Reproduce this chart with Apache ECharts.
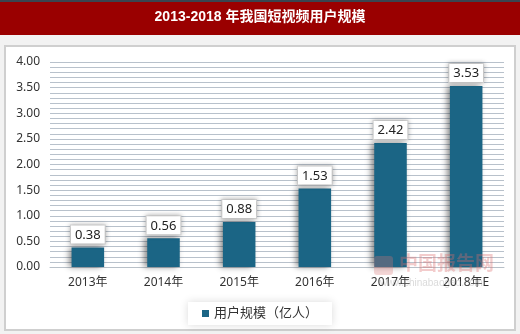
<!DOCTYPE html>
<html><head><meta charset="utf-8">
<script src="https://cdn.jsdelivr.net/npm/echarts@6/dist/echarts.min.js"></script>
<style>html,body{margin:0;padding:0;background:#fff}#c{width:520px;height:334px}</style>
</head><body><div id="c"></div>
<script>
const title = '2013-2018 年我国短视频用户规模';
const categories = ['2013年', '2014年', '2015年', '2016年', '2017年', '2018年E'];
const values = [0.38, 0.56, 0.88, 1.53, 2.42, 3.53];
const seriesName = '用户规模（亿人）';

const chart = echarts.init(document.getElementById('c'), null, {renderer: 'canvas'});
const font = '"Noto Sans", "Noto Sans CJK SC", sans-serif';
chart.setOption({
  animation: false,
  backgroundColor: '#ffffff',
  graphic: [
    {type: 'rect', z: 0, shape: {x: 0, y: 0, width: 520, height: 2}, style: {fill: '#3a4550'}},
    {type: 'rect', z: 0, shape: {x: 0, y: 2, width: 520, height: 33}, style: {fill: '#9a0000'}},
    {type: 'rect', z: 0, shape: {x: 0, y: 35, width: 520, height: 299}, style: {fill: '#f2f2f2'}},
    {type: 'rect', z: 0, shape: {x: 5, y: 46, width: 510, height: 284},
      style: {fill: '#ffffff', stroke: '#cfcfcf', lineWidth: 2}},
    {type: 'text', z: 10, left: 'center', top: 10,
      style: {text: title, fill: '#ffffff', font: 'bold 14px "Liberation Sans", "Noto Sans CJK SC", sans-serif'}},
    {type: 'rect', zlevel: 1, z: 100, shape: {x: 374, y: 256, width: 19, height: 19, r: 3}, style: {fill: 'rgba(220,120,120,0.3)'}},
    {type: 'text', zlevel: 1, z: 100, left: 399, top: 253,
      style: {text: '中国报告网', fill: 'rgba(220,110,110,0.35)', font: 'bold 19px "Noto Sans CJK SC", sans-serif'}},
    {type: 'text', zlevel: 1, z: 100, left: 380, top: 278,
      style: {text: 'www.chinabaogao.com', fill: 'rgba(150,150,150,0.35)', font: '10px "Liberation Sans", sans-serif'}}
  ],
  grid: {left: 50, right: 16, top: 62, bottom: 67, show: true, backgroundColor: '#e6edf3', borderWidth: 0},
  legend: {
    data: [seriesName], bottom: 9, left: 'center',
    icon: 'rect', itemWidth: 7, itemHeight: 7, itemGap: 4,
    padding: [5, 14, 5, 14],
    backgroundColor: '#ffffff',
    shadowColor: 'rgba(0,0,0,0.15)', shadowBlur: 8,
    textStyle: {fontSize: 13, color: '#333', fontFamily: font}
  },
  xAxis: {
    type: 'category', data: categories,
    axisLine: {lineStyle: {color: '#b8c0c8'}},
    axisTick: {show: false},
    axisLabel: {color: '#333', fontSize: 12, margin: 10, fontFamily: font}
  },
  yAxis: {
    type: 'value', min: 0, max: 4, interval: 0.5,
    axisLine: {show: false}, axisTick: {show: false},
    axisLabel: {color: '#333', fontSize: 12, margin: 10, fontFamily: font,
      formatter: v => v.toFixed(2)},
    splitLine: {lineStyle: {color: '#b8c1cb', width: 1}},
    minorTick: {show: false, splitNumber: 5},
    minorSplitLine: {show: true, lineStyle: {color: '#b8c1cb', width: 1}}
  },
  series: [{
    type: 'bar', name: seriesName, data: values, barWidth: '43%',
    itemStyle: {color: '#1b6585', shadowColor: 'rgba(0,0,0,0.45)', shadowBlur: 6, shadowOffsetX: -3, shadowOffsetY: 0},
    label: {
      show: true, position: 'top', distance: 4,
      formatter: p => p.value.toFixed(2),
      color: '#222', fontSize: 13, fontFamily: font,
      backgroundColor: '#ffffff', borderColor: '#d8d8d8', borderWidth: 1,
      padding: [3, 4, 2, 4],
      shadowColor: 'rgba(0,0,0,0.3)', shadowBlur: 5
    }
  }]
});
</script></body></html>
